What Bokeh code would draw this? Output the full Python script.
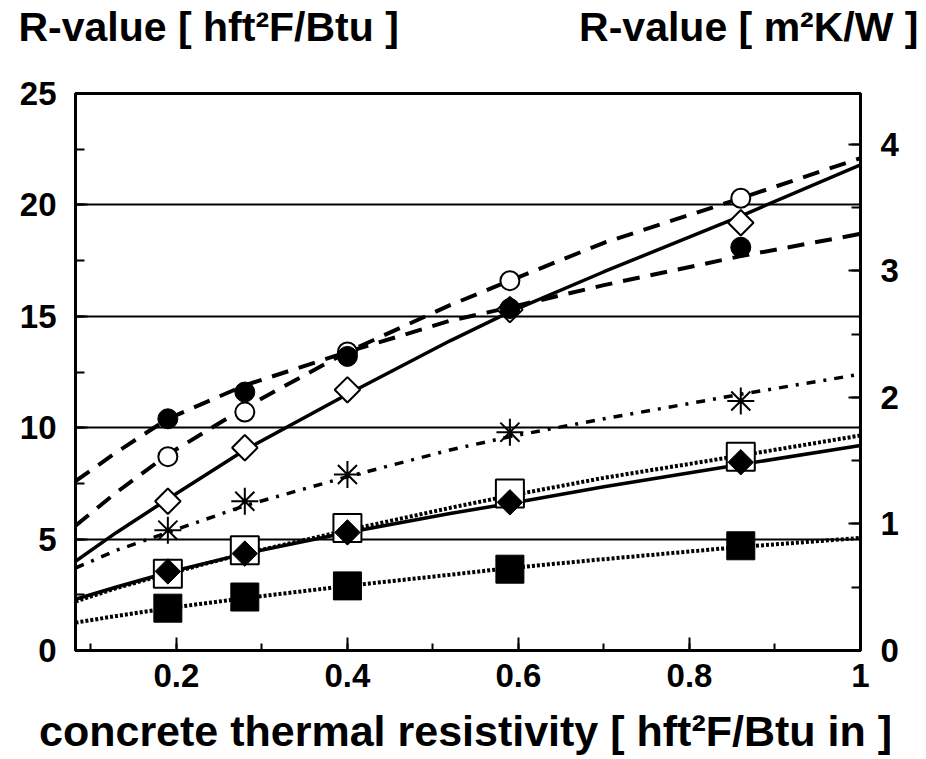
import numpy as np
from bokeh.plotting import figure
from bokeh.models import (Range1d, LinearAxis, SingleIntervalTicker, Label,
                          CustomJSTickFormatter)
from bokeh.embed import file_html
from bokeh.resources import INLINE

# ---------------- data ----------------
X_PTS = [0.19, 0.28, 0.40, 0.59, 0.86]
filled_circle = [10.4, 11.6, 13.2, 15.35, 18.1]
open_circle = [8.7, 10.7, 13.4, 16.6, 20.3]
open_diamond = [6.7, 9.1, 11.7, 15.3, 19.2]
asterisk_pts = [5.4, 6.7, 7.9, 9.8, 11.2]
open_square = [3.45, 4.5, 5.5, 7.05, 8.7]
filled_diamond = [3.55, 4.35, 5.3, 6.65, 8.45]
filled_square = [1.9, 2.4, 2.9, 3.65, 4.7]

CX = [0.082, 0.13, 0.19, 0.28, 0.40, 0.52, 0.59, 0.70, 0.86, 1.0]
fit_filled_circle = [7.6, 8.9, 10.4, 11.9, 13.4, 14.8, 15.4, 16.4, 17.7, 18.7]
fit_open_circle = [5.6, 7.1, 8.8, 10.9, 13.4, 15.5, 16.6, 18.3, 20.3, 22.1]
fit_open_diamond = [4.0, 5.3, 6.8, 9.0, 11.5, 13.9, 15.2, 17.0, 19.5, 21.8]
fit_asterisk = [3.7, 4.5, 5.3, 6.5, 7.8, 9.0, 9.6, 10.4, 11.5, 12.4]
fit_filled_diamond = [2.3, 2.85, 3.5, 4.35, 5.3, 6.15, 6.6, 7.35, 8.35, 9.2]
fit_open_square = [2.2, 2.8, 3.45, 4.35, 5.4, 6.4, 6.95, 7.75, 8.75, 9.65]
fit_filled_square = [1.25, 1.55, 1.9, 2.35, 2.9, 3.4, 3.7, 4.1, 4.65, 5.05]

X_RANGE = (0.082, 1.0)
Y_RANGE = (0, 25)
SI_FACTOR = 0.17611  # hft2F/Btu -> m2K/W

LEFT_TITLE = "R-value [ hft²F/Btu ]"
RIGHT_TITLE = "R-value [ m²K/W ]"
X_TITLE = "concrete thermal resistivity [ hft²F/Btu in ]"

FONT = "Liberation Sans"

# ---------------- figure ----------------
W, H = 926, 759
B_LEFT, B_RIGHT, B_TOP, B_BOTTOM = 75, 66, 93, 109
FRAME_W, FRAME_H = W - B_LEFT - B_RIGHT, H - B_TOP - B_BOTTOM
p = figure(width=W, height=H, output_backend="svg", toolbar_location=None,
           x_range=Range1d(*X_RANGE), y_range=Range1d(*Y_RANGE),
           min_border_left=B_LEFT, min_border_right=B_RIGHT,
           min_border_top=B_TOP, min_border_bottom=B_BOTTOM,
           background_fill_color="white", border_fill_color="white")
p.outline_line_color = "black"
p.outline_line_width = 3

p.extra_y_ranges = {"si": Range1d(Y_RANGE[0] * SI_FACTOR, Y_RANGE[1] * SI_FACTOR)}

def style_axis(ax, major_in, minor_in, standoff):
    ax.axis_line_color = "black"
    ax.axis_line_width = 3
    ax.major_tick_in = major_in
    ax.major_tick_out = 0
    ax.minor_tick_in = minor_in
    ax.minor_tick_out = 0
    ax.major_tick_line_width = 2
    ax.minor_tick_line_width = 2
    ax.major_tick_line_color = "black"
    ax.minor_tick_line_color = "black"
    ax.major_label_text_font = FONT
    ax.major_label_text_font_style = "bold"
    ax.major_label_text_font_size = "33px"
    ax.major_label_text_color = "black"
    ax.major_label_standoff = standoff

xa = p.xaxis[0]
xa.ticker = SingleIntervalTicker(interval=0.2, num_minor_ticks=2)
xa.formatter = CustomJSTickFormatter(code="return String(Math.round(tick*10)/10)")
style_axis(xa, 13, 7, 13)

ya = p.yaxis[0]
ya.ticker = SingleIntervalTicker(interval=5, num_minor_ticks=2)
style_axis(ya, 12, 9, 19)

ra = LinearAxis(y_range_name="si",
                ticker=SingleIntervalTicker(interval=1, num_minor_ticks=2))
style_axis(ra, 12, 9, 20)
p.add_layout(ra, "right")

p.xgrid.grid_line_color = None
p.ygrid.ticker = SingleIntervalTicker(interval=5)
p.ygrid.grid_line_color = "black"
p.ygrid.grid_line_width = 2

# ---------------- fitted curves ----------------
p.line(CX, fit_filled_circle, line_color="black", line_width=4, line_dash="17 11")
p.line(CX, fit_open_circle, line_color="black", line_width=4, line_dash="17 11")
p.line(CX, fit_open_diamond, line_color="black", line_width=3.5)
p.line(CX, fit_asterisk, line_color="black", line_width=3.5, line_dash="9 8 3 8")
p.line(CX, fit_open_square, line_color="black", line_width=4, line_dash="3 2")
p.line(CX, fit_filled_diamond, line_color="black", line_width=3.5)
p.line(CX, fit_filled_square, line_color="black", line_width=4, line_dash="3 2")

# ---------------- markers ----------------
p.scatter(X_PTS, open_circle, marker="circle", size=19, fill_color="white",
          line_color="black", line_width=2)
p.scatter(X_PTS, open_diamond, marker="square", angle=np.pi / 4, size=18,
          fill_color="white", line_color="black", line_width=2)
p.scatter(X_PTS, filled_circle, marker="circle", size=20, fill_color="black",
          line_color="black")
p.scatter(X_PTS, asterisk_pts, marker="asterisk", size=27, line_color="black",
          line_width=2)
p.scatter(X_PTS, open_square, marker="square", size=28, fill_color="white",
          line_color="black", line_width=2)
p.scatter(X_PTS, filled_diamond, marker="square", angle=np.pi / 4, size=18,
          fill_color="black", line_color="black")
p.scatter(X_PTS, filled_square, marker="square", size=28, fill_color="black",
          line_color="black")

# ---------------- titles ----------------
# pixel offsets from the frame's bottom-left corner -> data coordinates
def dx(px):
    return X_RANGE[0] + px * (X_RANGE[1] - X_RANGE[0]) / FRAME_W

def dy(px):
    return Y_RANGE[0] + px * (Y_RANGE[1] - Y_RANGE[0]) / FRAME_H

def add_text(txt, xpx, ypx, align, size, panel):
    p.add_layout(Label(x=dx(xpx), y=dy(ypx), text=txt,
                       text_font=FONT, text_font_style="bold",
                       text_font_size=size, text_color="black",
                       text_align=align, text_baseline="alphabetic"), panel)

add_text(LEFT_TITLE, -57, FRAME_H + 67, "left", "41px", "above")
add_text(RIGHT_TITLE, FRAME_W + 58, FRAME_H + 67, "right", "41px", "above")
add_text(X_TITLE, 390, -80, "center", "43px", "below")

open("out.html", "w").write(file_html(p, INLINE))
